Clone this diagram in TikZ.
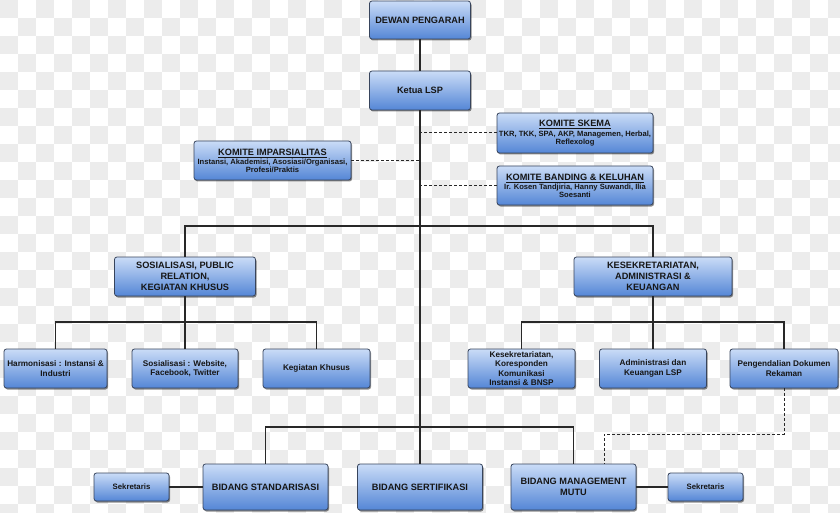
\documentclass[tikz,border=0pt]{standalone}
\usepackage{fontspec}
\setmainfont{Liberation Sans}
\usetikzlibrary{shadows}
\definecolor{boxtop}{RGB}{202,220,247}
\definecolor{boxbot}{RGB}{84,134,214}
\definecolor{boxedge}{RGB}{55,68,92}
\definecolor{checker}{RGB}{236,236,236}
\definecolor{linec}{RGB}{40,40,40}
\definecolor{txt}{RGB}{22,22,22}
\tikzset{
  box/.style={draw=boxedge, line width=0.8pt, rounded corners=2.5pt,
    top color=boxtop, bottom color=boxbot,
    drop shadow={shadow xshift=1pt, shadow yshift=-1.5pt, opacity=0.45, fill=black},
    inner sep=1pt, align=center, text=txt},
  big/.style={font=\fontsize{9.2}{10.7}\selectfont\bfseries},
  mid/.style={font=\fontsize{8.2}{9.6}\selectfont\bfseries},
  small/.style={font=\fontsize{7.6}{7.9}\selectfont\bfseries},
  conn/.style={draw=linec, line width=1.1pt},
  dconn/.style={draw=linec, line width=1pt, dash pattern=on 3pt off 2pt},
}
\newcommand{\ktitle}[1]{{\fontsize{9.2}{10}\selectfont\underline{#1}}}
\begin{document}
\begin{tikzpicture}[x=1pt,y=-1pt]
\useasboundingbox (0,0) rectangle (840,513);
% checkerboard background
\begin{scope}
\clip (0,0) rectangle (840,513);
\fill[white] (0,0) rectangle (840,513);
\foreach \i in {0,...,46}{
  \foreach \j in {0,...,28}{
    \pgfmathtruncatemacro\chk{mod(\i+\j,2)}
    \ifnum\chk=0
      \fill[checker] (18*\i,18*\j) rectangle ++(18,18);
    \fi
  }
}
\end{scope}

% top
\node[box,big,minimum width=101pt,minimum height=38pt] (dewan) at (420,20) {DEWAN PENGARAH};
\node[box,big,minimum width=101pt,minimum height=39pt] (ketua) at (420,90.5) {Ketua LSP};

% komite
\node[box,small,minimum width=156pt,minimum height=40pt] (skema) at (575,133)
  {\ktitle{KOMITE SKEMA}\\[1.5pt] TKR, TKK, SPA, AKP, Managemen, Herbal,\\ Reflexolog};
\node[box,small,minimum width=156pt,minimum height=39pt] (banding) at (575,185.5)
  {\ktitle{KOMITE BANDING \& KELUHAN}\\[1pt] Ir. Kosen Tandjiria, Hanny Suwandi, Ilia\\ Soesanti};
\node[box,small,minimum width=157pt,minimum height=39pt] (impars) at (272.5,160.5)
  {\ktitle{KOMITE IMPARSIALITAS}\\[1pt] Instansi, Akademisi, Asosiasi/Organisasi,\\ Profesi/Praktis};

% second level
\node[box,big,minimum width=141pt,minimum height=39pt] (sos) at (185,276.5)
  {SOSIALISASI, PUBLIC\\ RELATION,\\ KEGIATAN KHUSUS};
\node[box,big,minimum width=158pt,minimum height=39pt] (kes) at (653,276.5)
  {KESEKRETARIATAN,\\ ADMINISTRASI \&\\ KEUANGAN};

% third level left
\node[box,mid,minimum width=103pt,minimum height=39pt] (harm) at (55.5,368.5)
  {Harmonisasi : Instansi \&\\ Industri};
\node[box,mid,minimum width=106pt,minimum height=39pt] (sosw) at (185,368.5)
  {Sosialisasi : Website,\\ Facebook, Twitter};
\node[box,mid,minimum width=107pt,minimum height=39pt] (keg) at (316.5,368.5)
  {Kegiatan Khusus};

% third level right
\node[box,mid,font=\fontsize{8.2}{9.3}\selectfont\bfseries,minimum width=107pt,minimum height=39pt] (kesk) at (521.5,368.5)
  {Kesekretariatan,\\ Koresponden\\ Komunikasi\\ Instansi \& BNSP};
\node[box,mid,minimum width=107pt,minimum height=39pt] (adm) at (653,368.5)
  {Administrasi dan\\ Keuangan LSP};
\node[box,mid,minimum width=108pt,minimum height=39pt] (peng) at (784,368.5)
  {Pengendalian Dokumen\\ Rekaman};

% bottom
\node[box,big,minimum width=125pt,minimum height=46pt] (std) at (265.5,487) {BIDANG STANDARISASI};
\node[box,big,minimum width=125pt,minimum height=46pt] (sert) at (420,487) {BIDANG SERTIFIKASI};
\node[box,big,minimum width=125pt,minimum height=46pt] (mutu) at (573.5,487) {BIDANG MANAGEMENT\\ MUTU};
\node[box,mid,font=\fontsize{7.8}{9}\selectfont\bfseries,minimum width=75pt,minimum height=28pt] (sek1) at (131.5,487) {Sekretaris};
\node[box,mid,font=\fontsize{7.8}{9}\selectfont\bfseries,minimum width=75pt,minimum height=28pt] (sek2) at (705.5,487) {Sekretaris};

% coordinates
\coordinate (h1) at (185,226);
\coordinate (h2) at (55.5,322);
\coordinate (h3) at (521.5,322);
\coordinate (h4) at (265.5,427);
\coordinate (d1) at (604,434);

% connectors
\draw[conn] (dewan) -- (ketua);
\draw[conn] (ketua.south) -- (sert.north);
\draw[conn] (sos.north) -- (h1) -| (kes.north);
\draw[conn] (sos.south) -- (sosw.north);
\draw[conn] (harm.north) -- (h2) -| (keg.north);
\draw[conn] (kes.south) -- (adm.north);
\draw[conn] (kesk.north) -- (h3) -| (peng.north);
\draw[conn] (std.north) -- (h4) -| (mutu.north);
\draw[conn] (sek1.east) -- (std.west);
\draw[conn] (mutu.east) -- (sek2.west);

% dashed
\draw[dconn] (skema.west) -- (skema.west -| ketua.south);
\draw[dconn] (impars.east) -- (impars.east -| ketua.south);
\draw[dconn] (banding.west) -- (banding.west -| ketua.south);
\draw[dconn] (peng.south) |- (d1) -- (d1 |- mutu.north);
\end{tikzpicture}
\end{document}
